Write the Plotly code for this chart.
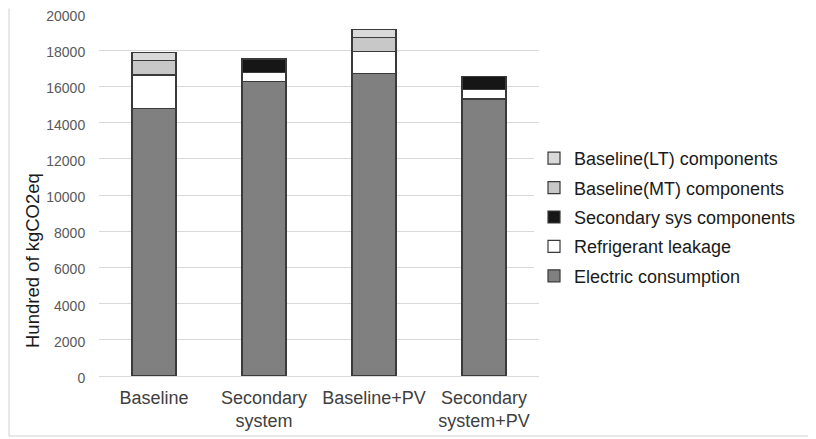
import plotly.graph_objects as go

categories = ["Baseline", "Secondary<br>system", "Baseline+PV", "Secondary<br>system+PV"]
electric = [14800, 16250, 16700, 15300]
refrigerant = [1830, 540, 1240, 550]
secondary_sys = [0, 730, 0, 700]
baseline_mt = [810, 0, 770, 0]
baseline_lt = [420, 0, 420, 0]

series = [
    ("Electric consumption", electric, "#808080"),
    ("Refrigerant leakage", refrigerant, "#ffffff"),
    ("Secondary sys components", secondary_sys, "#161616"),
    ("Baseline(MT) components", baseline_mt, "#c8c8c8"),
    ("Baseline(LT) components", baseline_lt, "#d9d9d9"),
]

W, H = 808, 431
OX, OY = 8, 8  # browser body offset
L, T, Bm, R = 99 - OX, 14 - OY, H - (376 - OY), W - (539 - OX)
PW, PH = W - L - R, H - T - Bm

fig = go.Figure()
n = len(series)
for i, (name, vals, col) in enumerate(series):
    fig.add_trace(go.Bar(
        x=categories, y=vals, name=name, legendgroup=f"g{i}",
        legendrank=n - i,
        marker=dict(color=col, line=dict(color="#3a3a3a", width=1.2)),
        width=0.4,
    ))

bx0, bx1 = (9 - 99) / PW, (813 - 99) / PW
by0, by1 = -(436 - 376) / PH, (376 - 8.5) / PH
border = dict(type="line", xref="paper", yref="paper", line=dict(color="#d0d0d0", width=1))

fig.update_layout(
    barmode="stack",
    width=W, height=H,
    margin=dict(l=L, r=R, t=T, b=Bm, autoexpand=False),
    paper_bgcolor="white", plot_bgcolor="white",
    font=dict(family="Liberation Sans, Arial", color="#404040"),
    legend=dict(
        x=(534 - 99) / PW, y=(376 - 217) / PH, xanchor="left", yanchor="middle",
        traceorder="grouped", tracegroupgap=3,
        font=dict(size=18, color="#1a1a1a"),
        itemwidth=30,
    ),
    xaxis=dict(
        showline=False, showgrid=False,
        tickfont=dict(size=18, color="#404040"),
        ticks="outside", ticklen=5, tickcolor="rgba(0,0,0,0)",
    ),
    yaxis=dict(
        range=[0, 20001], tickvals=list(range(0, 20001, 2000)),
        showgrid=True, gridcolor="#d9d9d9", gridwidth=1,
        zeroline=True, zerolinecolor="#d9d9d9", zerolinewidth=1,
        showline=False,
        tickfont=dict(size=14, color="#595959"),
        ticks="outside", ticklen=10, tickcolor="rgba(0,0,0,0)",
        tickformat="d", ticklabeloverflow="allow", ticklabelshift=2,
    ),
    annotations=[dict(
        text="Hundred of kgCO2eq", textangle=-90,
        xref="paper", yref="paper", x=(32 - 99) / PW, y=(376 - 261) / PH,
        xanchor="center", yanchor="middle", showarrow=False,
        font=dict(size=18.5, color="#1a1a1a"),
    )],
    shapes=[
        dict(border, x0=bx0, x1=bx0, y0=by0, y1=by1),
        dict(border, x0=bx1, x1=bx1, y0=by0, y1=by1),
        dict(border, x0=bx0, x1=bx1, y0=by0, y1=by0),
    ],
)

fig.write_html("out.html")
